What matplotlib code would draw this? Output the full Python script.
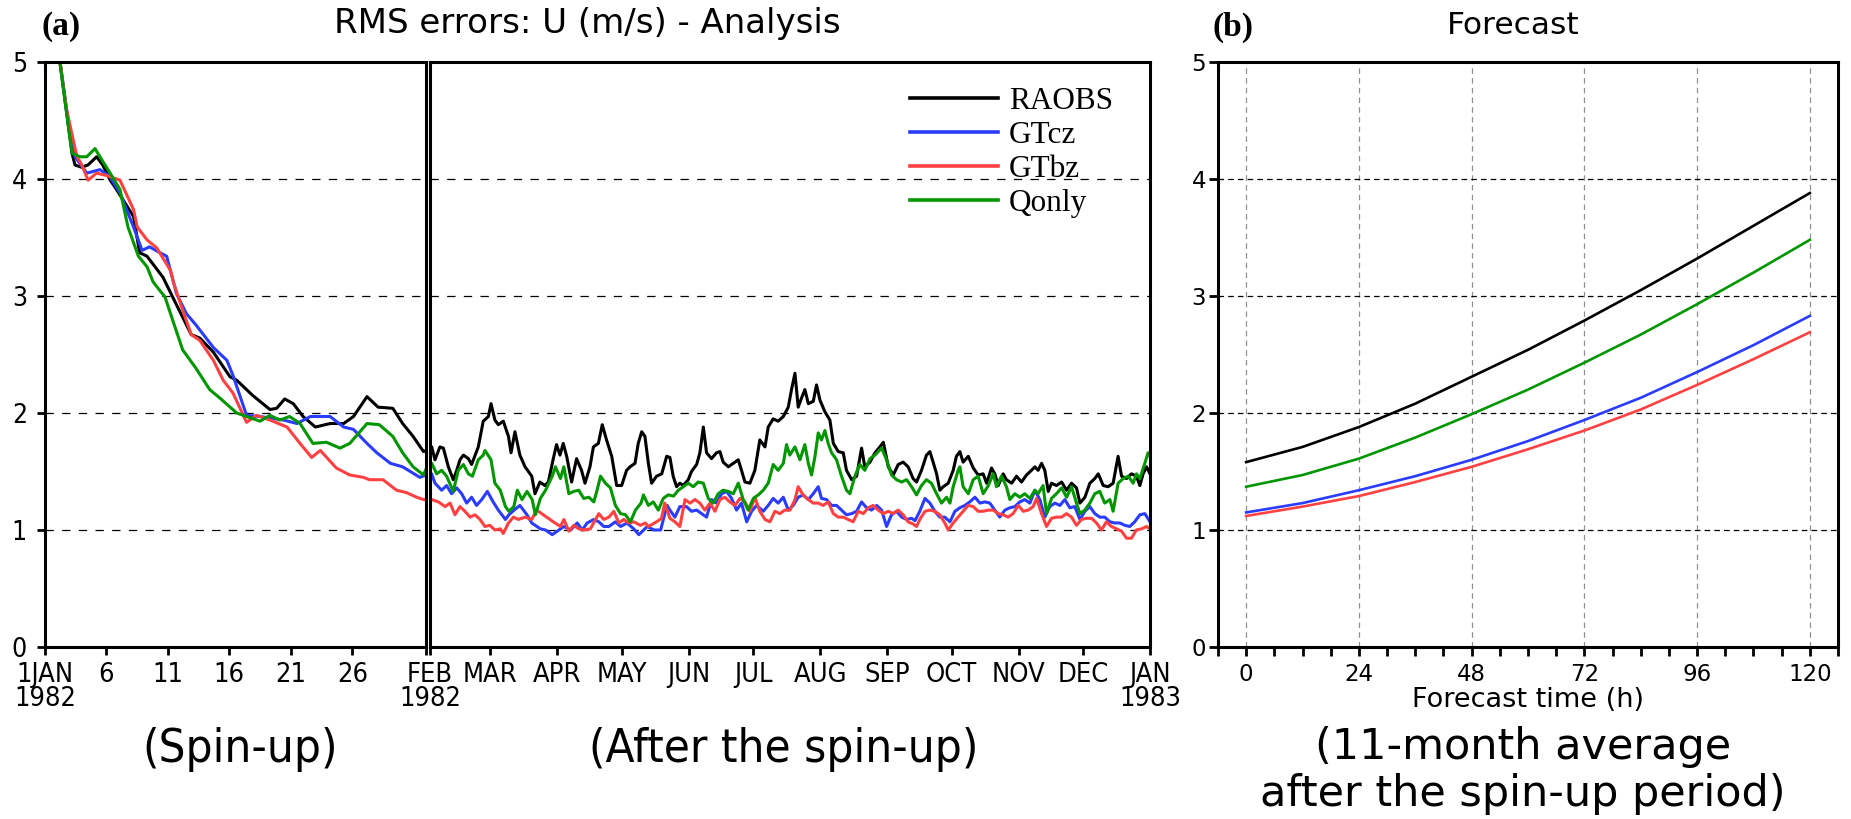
import numpy as np
import matplotlib
matplotlib.use('Agg')
import matplotlib.pyplot as plt
from matplotlib import font_manager as fm
from matplotlib.font_manager import FontProperties

# ---------------- data (days since 1 Jan 1982 00Z) ----------------
raobs_day = [1.0, 2.2, 2.44, 2.98, 3.5, 4.2, 4.7, 5.3, 5.7, 7.2, 7.7, 8.3, 9.6, 10.44, 11.9, 12.6, 13.7, 15.05, 15.6, 16.9,
             18.3, 18.85, 19.5, 20.2, 21.0, 22.0, 23.2, 24.3, 25.1, 26.2, 27.1, 28.3, 29.1, 29.95, 30.8, 31.0,
             31.8, 33.3, 35.6, 37.2, 39.5, 41.8, 43.4, 44.9, 46.5, 48.8, 50.3, 53.4, 55.7, 58.1, 59.3, 61.1, 62.7, 65.0,
             67.4, 68.6, 70.4, 72.7, 75.1, 78.2, 79.7, 82.0, 84.3, 85.9, 88.2, 89.7, 91.3, 92.8, 94.4, 96.7, 99.0, 101.3,
             102.9, 105.2, 106.8, 109.1, 110.9, 112.9, 115.3, 117.6, 119.9, 122.2, 123.8, 126.1, 127.6, 129.2, 130.7,
             132.3, 133.8, 136.1, 138.5, 140.8, 142.3, 143.8, 145.4, 146.9, 148.5, 150.8, 152.3, 154.7, 156.2, 157.8,
             159.3, 161.6, 163.9, 165.5, 167.0, 169.4, 171.7, 174.0, 175.5, 177.1, 179.4, 181.7, 184.0, 186.4, 187.9,
             190.2, 192.5, 194.9, 197.2, 198.7, 200.3, 201.8, 203.4, 204.9, 206.5, 208.8, 210.3, 211.9, 214.2, 216.5,
             218.1, 220.4, 222.7, 224.2, 226.6, 228.9, 231.2, 232.7, 235.1, 237.4, 239.7, 241.3, 243.6, 245.9, 248.2,
             250.5, 252.8, 255.1, 256.7, 259.0, 261.3, 262.9, 264.4, 266.0, 267.5, 269.1, 271.4, 273.7, 275.2, 276.8,
             278.3, 280.7, 283.0, 285.3, 287.6, 289.2, 291.5, 293.0, 294.6, 296.9, 298.4, 300.8, 303.1, 305.4, 307.7,
             310.0, 311.6, 313.1, 314.7, 316.2, 317.8, 319.3, 321.6, 324.0, 326.3, 328.6, 330.9, 332.5, 334.8, 337.1,
             339.4, 341.0, 343.3, 345.6, 347.9, 350.2, 351.8, 354.1, 356.4, 358.7, 360.3, 361.8, 363.4, 365.0]
raobs_val = [5.17, 4.22, 4.12, 4.10, 4.12, 4.19, 4.12, 3.99, 3.93, 3.68, 3.37, 3.34, 3.16, 2.98, 2.67, 2.64, 2.52, 2.31, 2.28, 2.15,
             2.03, 2.04, 2.12, 2.08, 1.97, 1.88, 1.91, 1.91, 1.97, 2.14, 2.05, 2.04, 1.91, 1.80, 1.67, 1.68,
             1.71, 1.60, 1.71, 1.70, 1.54, 1.43, 1.51, 1.60, 1.64, 1.61, 1.56, 1.71, 1.93, 1.97, 2.08, 1.94, 1.90, 1.93,
             1.80, 1.66, 1.84, 1.64, 1.54, 1.46, 1.31, 1.41, 1.38, 1.41, 1.61, 1.73, 1.64, 1.74, 1.63, 1.41, 1.61, 1.51,
             1.40, 1.54, 1.71, 1.74, 1.90, 1.77, 1.63, 1.38, 1.38, 1.51, 1.54, 1.57, 1.74, 1.84, 1.80,
             1.57, 1.40, 1.46, 1.48, 1.63, 1.62, 1.46, 1.37, 1.40, 1.38, 1.43, 1.50, 1.56, 1.66, 1.88,
             1.66, 1.61, 1.66, 1.67, 1.58, 1.54, 1.57, 1.60, 1.51, 1.41, 1.40, 1.51, 1.77, 1.71, 1.88,
             1.95, 1.93, 1.97, 2.05, 2.20, 2.34, 2.05, 2.13, 2.20, 2.08, 2.10, 2.24, 2.11, 2.01, 1.94,
             1.74, 1.67, 1.66, 1.51, 1.43, 1.46, 1.70, 1.54, 1.58, 1.66, 1.71, 1.75, 1.54, 1.47, 1.56,
             1.58, 1.54, 1.44, 1.41, 1.51, 1.64, 1.67, 1.58, 1.48, 1.34, 1.37, 1.40, 1.51, 1.63, 1.67,
             1.58, 1.63, 1.53, 1.47, 1.48, 1.40, 1.53, 1.48, 1.38, 1.48, 1.43, 1.40, 1.46, 1.41, 1.47,
             1.51, 1.54, 1.51, 1.57, 1.51, 1.33, 1.40, 1.38, 1.41, 1.34, 1.40, 1.36, 1.23, 1.28, 1.40,
             1.44, 1.48, 1.38, 1.37, 1.40, 1.63, 1.46, 1.44, 1.48, 1.46, 1.38, 1.48, 1.54, 1.48]

gtcz_day = [1.0, 1.76, 2.44, 3.4, 4.47, 5.3, 6.1, 7.2, 7.9, 8.5, 9.36, 9.9, 10.7, 11.5, 12.3, 13.7, 14.8, 15.3, 16.4, 17.5,
            19.4, 20.5, 21.6, 23.2, 24.3, 25.1, 26.2, 27.0, 28.1, 29.1, 30.5, 31.0,
            31.8, 33.3, 36.4, 38.7, 41.0, 43.4, 45.7, 48.0, 50.3, 52.6, 55.0, 57.6, 60.3, 62.7, 66.0, 67.6, 70.0, 72.7,
            76.0, 78.2, 82.2, 84.6, 87.7, 90.8, 93.1, 96.2, 99.3, 101.6, 103.9, 107.0, 109.3, 111.6, 114.0, 117.0,
            119.4, 122.4, 125.5, 127.9, 131.8, 134.9, 138.0, 139.5, 141.0, 142.3, 144.6, 146.9, 150.0, 152.3, 154.7,
            157.0, 159.3, 161.6, 163.9, 166.3, 168.6, 170.9, 173.2, 175.5, 177.9, 180.2, 182.5, 185.6, 187.9, 190.2,
            192.5, 194.9, 197.2, 199.5, 201.8, 204.1, 206.5, 208.8, 211.1, 212.6, 215.0, 217.3, 219.6, 221.9, 224.2,
            226.6, 228.9, 231.2, 233.5, 235.8, 238.2, 240.5, 242.8, 245.1, 247.4, 249.8, 252.1, 254.4, 256.0, 258.2,
            260.6, 262.9, 265.2, 267.5, 269.8, 272.2, 274.5, 276.8, 279.1, 281.4, 283.8, 286.1, 288.4, 290.7, 293.0,
            295.3, 297.7, 300.0, 302.3, 304.6, 306.9, 309.3, 311.6, 313.9, 316.2, 318.5, 320.9, 323.2, 325.5, 327.8,
            330.1, 332.5, 334.8, 337.1, 339.4, 341.7, 344.0, 346.4, 348.7, 351.0, 353.3, 355.6, 357.9, 360.3, 362.6,
            365.0]
gtcz_val = [5.17, 4.59, 4.19, 4.05, 4.08, 4.02, 3.88, 3.59, 3.39, 3.42, 3.37, 3.34, 3.02, 2.85, 2.75, 2.56, 2.45, 2.32, 1.98, 1.97,
            1.94, 1.91, 1.97, 1.97, 1.88, 1.86, 1.74, 1.66, 1.57, 1.54, 1.45, 1.47,
            1.48, 1.40, 1.34, 1.38, 1.31, 1.36, 1.31, 1.23, 1.28, 1.21, 1.26, 1.33, 1.24, 1.17, 1.09, 1.13, 1.17, 1.21,
            1.13, 1.06, 1.01, 1.00, 0.96, 1.00, 1.03, 1.00, 1.06, 1.00, 1.06, 1.09, 1.07, 1.03, 1.03, 1.07,
            1.03, 1.06, 1.01, 0.96, 1.03, 1.00, 1.00, 1.11, 1.21, 1.17, 1.11, 1.20, 1.20, 1.16, 1.17,
            1.14, 1.11, 1.26, 1.23, 1.31, 1.33, 1.27, 1.17, 1.23, 1.07, 1.16, 1.21, 1.16, 1.21, 1.27,
            1.23, 1.28, 1.17, 1.21, 1.28, 1.30, 1.26, 1.31, 1.37, 1.27, 1.26, 1.21, 1.21, 1.17, 1.13,
            1.14, 1.16, 1.24, 1.19, 1.17, 1.21, 1.17, 1.03, 1.13, 1.16, 1.11, 1.09, 1.10, 1.08, 1.16,
            1.27, 1.23, 1.16, 1.11, 1.11, 1.07, 1.16, 1.19, 1.21, 1.24, 1.28, 1.23, 1.24, 1.23, 1.17,
            1.11, 1.17, 1.19, 1.20, 1.24, 1.26, 1.23, 1.34, 1.26, 1.11, 1.20, 1.23, 1.21, 1.26, 1.19,
            1.20, 1.09, 1.16, 1.20, 1.14, 1.11, 1.11, 1.07, 1.06, 1.06, 1.04, 1.03, 1.07, 1.13, 1.14,
            1.07]

gtbz_day = [1.0, 1.76, 2.6, 3.0, 3.5, 4.2, 5.0, 6.1, 7.2, 7.5, 8.3, 9.1, 10.2, 10.5, 11.1, 11.9, 12.6, 13.7, 14.5, 15.3,
            16.4, 17.2, 18.3, 19.7, 20.75, 21.7, 22.4, 23.7, 24.8, 25.9, 26.4, 27.5, 28.6, 29.4, 30.25, 30.8, 31.0,
            31.8, 34.9, 38.0, 40.3, 42.6, 44.9, 47.2, 49.6, 51.9, 54.2, 56.5, 58.8, 61.1, 63.6, 65.0, 67.4, 69.7, 72.0,
            75.1, 78.2, 80.5, 82.8, 85.1, 88.2, 91.5, 93.1, 95.4, 97.7, 100.0, 102.3, 105.4, 107.8, 109.3, 111.6, 114.0,
            116.3, 118.6, 120.9, 123.2, 125.5, 128.6, 130.9, 132.3, 136.1, 138.4, 139.9, 142.3, 144.6, 146.9, 149.3,
            151.6, 153.9, 156.2, 158.5, 160.9, 163.2, 165.5, 167.8, 170.1, 172.5, 174.8, 177.1, 179.4, 181.7, 184.0,
            186.4, 188.7, 191.0, 193.3, 195.6, 198.0, 200.3, 201.8, 204.1, 206.5, 208.8, 211.1, 213.4, 215.7, 218.1,
            220.4, 222.7, 225.0, 227.3, 229.7, 232.0, 234.3, 236.6, 238.9, 241.3, 243.6, 245.9, 248.2, 250.5, 252.8,
            255.2, 256.7, 258.2, 260.6, 262.9, 265.2, 267.5, 269.8, 271.4, 273.7, 276.0, 278.3, 280.7, 283.0, 285.3,
            287.6, 290.0, 292.3, 294.6, 296.9, 299.2, 301.5, 303.9, 306.2, 308.5, 310.8, 312.4, 314.7, 317.0, 319.3,
            321.6, 324.0, 326.3, 328.6, 330.9, 333.2, 335.5, 337.9, 340.2, 342.5, 344.8, 347.1, 349.5, 351.8, 354.1,
            356.4, 358.7, 361.1, 363.4, 365.0]
gtbz_val = [5.17, 4.59, 4.19, 4.12, 3.99, 4.05, 4.03, 3.99, 3.74, 3.59, 3.48, 3.41, 3.22, 3.10, 2.91, 2.67, 2.62, 2.45, 2.28, 2.17,
            1.92, 1.98, 1.94, 1.88, 1.74, 1.62, 1.68, 1.53, 1.47, 1.45, 1.43, 1.43, 1.34, 1.32, 1.28, 1.26, 1.26,
            1.26, 1.24, 1.20, 1.23, 1.13, 1.20, 1.16, 1.11, 1.13, 1.09, 1.03, 1.04, 1.00, 1.01, 0.97, 1.06, 1.11, 1.09,
            1.11, 1.09, 1.17, 1.14, 1.11, 1.07, 1.03, 1.09, 0.99, 1.04, 1.01, 1.00, 1.01, 1.09, 1.14, 1.09, 1.11,
            1.16, 1.06, 1.09, 1.06, 1.07, 1.04, 1.06, 1.03, 1.07, 1.10, 1.23, 1.10, 1.07, 1.03, 1.26,
            1.23, 1.26, 1.23, 1.17, 1.23, 1.16, 1.26, 1.28, 1.24, 1.21, 1.27, 1.24, 1.16, 1.28, 1.16,
            1.09, 1.07, 1.16, 1.14, 1.17, 1.17, 1.26, 1.37, 1.30, 1.26, 1.23, 1.23, 1.21, 1.24, 1.14,
            1.11, 1.11, 1.09, 1.07, 1.16, 1.14, 1.19, 1.21, 1.17, 1.14, 1.16, 1.14, 1.17, 1.13, 1.07,
            1.05, 1.03, 1.09, 1.16, 1.17, 1.16, 1.13, 1.06, 1.00, 1.06, 1.11, 1.16, 1.21, 1.20, 1.16,
            1.16, 1.17, 1.17, 1.14, 1.13, 1.11, 1.14, 1.21, 1.16, 1.17, 1.20, 1.27, 1.14, 1.03, 1.10,
            1.11, 1.11, 1.14, 1.11, 1.04, 1.09, 1.10, 1.10, 1.06, 1.00, 1.07, 1.03, 1.01, 0.99, 0.93,
            0.93, 1.00, 1.01, 1.03, 1.01]

qonly_day = [1.0, 1.9, 2.2, 2.85, 3.4, 4.07, 4.47, 5.3, 6.1, 6.75, 7.6, 8.3, 8.8, 9.77, 10.4, 11.2, 12.3, 13.4, 14.2, 15.6,
             16.4, 17.5, 18.3, 19.1, 19.9, 20.75, 21.8, 22.9, 24.0, 24.8, 26.2, 27.2, 28.3, 29.1, 29.95, 30.8, 31.0,
             31.8, 34.1, 36.4, 38.7, 41.8, 44.1, 46.5, 48.8, 50.7, 53.4, 55.7, 56.5, 59.3, 61.1, 63.6, 66.0, 67.6, 69.9,
             71.5, 73.7, 76.0, 78.4, 79.9, 82.2, 84.6, 87.7, 89.2, 91.5, 93.1, 95.4, 97.7, 100.0, 102.3, 104.7, 107.0,
             108.5, 110.1, 112.4, 114.7, 117.0, 119.4, 121.7, 124.0, 126.3, 128.9, 130.0, 132.3, 134.6, 136.9, 139.2,
             141.5, 144.0, 146.2, 148.5, 150.8, 153.1, 155.4, 157.8, 160.1, 162.4, 164.7, 167.0, 169.4, 171.7, 174.0,
             176.3, 178.6, 181.0, 183.3, 185.6, 187.9, 190.2, 192.5, 194.9, 196.4, 197.9, 200.3, 202.6, 204.9, 206.5,
             208.0, 209.6, 211.1, 212.6, 214.2, 215.7, 217.3, 219.6, 221.9, 224.2, 225.8, 228.1, 230.4, 232.7, 235.1,
             237.4, 240.5, 242.8, 245.1, 247.4, 249.8, 252.1, 254.4, 256.7, 259.0, 261.3, 263.6, 266.0, 268.3, 270.6,
             272.2, 273.7, 276.0, 276.8, 278.3, 280.7, 283.0, 285.3, 287.6, 290.0, 292.3, 293.8, 296.1, 298.4, 300.0,
             302.3, 304.6, 306.9, 309.3, 311.6, 313.1, 315.4, 317.0, 319.3, 321.6, 324.0, 326.3, 328.6, 330.9, 332.5,
             334.8, 337.1, 339.4, 341.7, 344.0, 346.4, 347.9, 350.2, 352.6, 354.9, 357.2, 358.7, 360.3, 362.6, 364.1,
             365.0]
qonly_val = [5.17, 4.45, 4.22, 4.19, 4.19, 4.26, 4.19, 4.05, 3.91, 3.59, 3.34, 3.25, 3.12, 2.99, 2.79, 2.54, 2.38, 2.20, 2.13, 2.00,
             1.97, 1.93, 1.98, 1.94, 1.97, 1.91, 1.74, 1.75, 1.70, 1.74, 1.91, 1.90, 1.80, 1.66, 1.54, 1.47, 1.52,
             1.57, 1.48, 1.51, 1.46, 1.33, 1.51, 1.56, 1.48, 1.46, 1.60, 1.64, 1.68, 1.60, 1.40, 1.34, 1.20, 1.16, 1.20,
             1.34, 1.26, 1.33, 1.26, 1.13, 1.27, 1.34, 1.46, 1.54, 1.44, 1.54, 1.31, 1.33, 1.34, 1.27, 1.28, 1.24,
             1.34, 1.46, 1.40, 1.36, 1.21, 1.14, 1.13, 1.07, 1.17, 1.23, 1.30, 1.21, 1.24, 1.17, 1.27,
             1.30, 1.29, 1.34, 1.37, 1.40, 1.37, 1.41, 1.40, 1.27, 1.23, 1.31, 1.34, 1.33, 1.31, 1.40,
             1.26, 1.17, 1.27, 1.30, 1.34, 1.40, 1.56, 1.51, 1.57, 1.73, 1.64, 1.71, 1.60, 1.73, 1.57,
             1.47, 1.63, 1.83, 1.77, 1.85, 1.74, 1.66, 1.60, 1.46, 1.34, 1.31, 1.46, 1.56, 1.51, 1.61,
             1.64, 1.70, 1.60, 1.47, 1.43, 1.41, 1.43, 1.37, 1.30, 1.38, 1.43, 1.40, 1.31, 1.23, 1.28,
             1.23, 1.37, 1.51, 1.54, 1.37, 1.31, 1.43, 1.46, 1.31, 1.38, 1.48, 1.37, 1.46, 1.37, 1.26,
             1.31, 1.28, 1.31, 1.27, 1.34, 1.31, 1.38, 1.14, 1.27, 1.31, 1.36, 1.28, 1.37, 1.23, 1.14,
             1.17, 1.23, 1.31, 1.33, 1.23, 1.26, 1.16, 1.40, 1.44, 1.46, 1.40, 1.48, 1.44, 1.57, 1.66,
             1.63]

# forecast (11-month average)
fc_hours = [0, 12, 24, 36, 48, 60, 72, 84, 96, 108, 120]
fc_raobs = [1.58, 1.71, 1.88, 2.08, 2.31, 2.54, 2.79, 3.05, 3.32, 3.60, 3.88]
fc_gtcz = [1.15, 1.23, 1.34, 1.46, 1.60, 1.76, 1.94, 2.13, 2.35, 2.58, 2.83]
fc_gtbz = [1.12, 1.20, 1.29, 1.41, 1.54, 1.69, 1.85, 2.03, 2.24, 2.46, 2.69]
fc_qonly = [1.37, 1.47, 1.61, 1.79, 1.99, 2.20, 2.43, 2.67, 2.93, 3.20, 3.48]

names = ['RAOBS', 'GTcz', 'GTbz', 'Qonly']
colors = ['#000000', '#2a3cff', '#ff4141', '#009600']

spin_ticks = [0, 5, 10, 15, 20, 25, 31]
spin_labels = ['1JAN\n1982', '6', '11', '16', '21', '26', '']
month_ticks = [31, 59, 90, 120, 151, 181, 212, 243, 273, 304, 334, 365]
month_labels = ['FEB\n1982', 'MAR', 'APR', 'MAY', 'JUN', 'JUL', 'AUG', 'SEP', 'OCT', 'NOV', 'DEC', 'JAN\n1983']
fc_ticks = [0, 24, 48, 72, 96, 120]

# ---------------- fonts ----------------
ttf = fm.fontManager.ttflist
fnames = {f.name for f in ttf}
if 'DejaVu Sans Condensed' in fnames:
    COND = dict(family='DejaVu Sans Condensed')
elif any(f.name == 'DejaVu Sans' and str(f.stretch) in ('condensed', 'semi-condensed', '500', '600') for f in ttf):
    COND = dict(family='DejaVu Sans', stretch='condensed')
elif 'Liberation Sans Narrow' in fnames:
    COND = dict(family='Liberation Sans Narrow')
else:
    COND = dict(family='DejaVu Sans')

def cfp(size):
    return FontProperties(size=size, **COND)

plt.rcParams['font.family'] = ['DejaVu Sans']
plt.rcParams['lines.scale_dashes'] = False

W, H = 1851, 819
fig = plt.figure(figsize=(W / 100, H / 100), dpi=100)

def fx(px):
    return px / W

def fy(py):
    return 1 - py / H

bottom = fy(647)
height = 585 / H
axL = fig.add_axes([fx(45), bottom, 381 / W, height])
axM = fig.add_axes([fx(430), bottom, 720 / W, height])
axR = fig.add_axes([fx(1218), bottom, 620 / W, height])

series = [(raobs_day, raobs_val), (gtcz_day, gtcz_val), (gtbz_day, gtbz_val), (qonly_day, qonly_val)]
for ax in (axL, axM):
    for (d, v), nm, c in zip(series, names, colors):
        ax.plot(d, v, color=c, lw=2.2, label=nm, solid_joinstyle='round')
    ax.set_ylim(0, 5)
    ax.set_yticks([0, 1, 2, 3, 4, 5])
    ax.set_axisbelow(True)
    ax.yaxis.grid(True, color='black', lw=0.9, ls=(0, (6, 6)))
    for s in ax.spines.values():
        s.set_linewidth(2.2)
    ax.tick_params(axis='x', direction='out', length=5.5, width=2.0, pad=5)

axL.set_xlim(0, 31)
axL.set_xticks(spin_ticks)
axL.set_xticklabels(spin_labels, fontproperties=cfp(19.5))
axL.set_yticklabels([str(i) for i in range(6)], fontproperties=cfp(19))
axL.tick_params(axis='y', direction='out', length=6, width=2.0, pad=7)

axM.set_xlim(31, 365)
axM.set_xticks(month_ticks)
axM.set_xticklabels(month_labels, fontproperties=cfp(19.5))
axM.tick_params(axis='y', length=0, labelleft=False)

for ax in (axL, axM):
    for lab in ax.get_xticklabels():
        lab.set_linespacing(0.92)

leg = axM.legend(loc='upper left', bbox_to_anchor=(0.667, 0.958), frameon=False,
                 prop=FontProperties(family='Liberation Serif', size=22.5),
                 handlelength=2.8, handletextpad=0.36, labelspacing=0.16,
                 borderpad=0, borderaxespad=0)
for ln in leg.get_lines():
    ln.set_linewidth(2.6)

# forecast panel
for vals, c in zip([fc_raobs, fc_gtcz, fc_gtbz, fc_qonly], colors):
    axR.plot(fc_hours, vals, color=c, lw=1.9)
axR.set_xlim(-6, 126)
axR.set_ylim(0, 5)
axR.set_xticks(fc_ticks)
axR.set_xticks(np.arange(-6, 127, 6), minor=True)
axR.set_yticks([0, 1, 2, 3, 4, 5])
axR.set_axisbelow(True)
axR.yaxis.grid(True, color='black', lw=0.9, ls=(0, (4, 3)))
axR.xaxis.grid(True, which='major', color='#909090', lw=0.9, ls=(0, (4, 3)))
for s in axR.spines.values():
    s.set_linewidth(2.2)
axR.tick_params(axis='both', which='both', direction='out', length=6.5, width=2.0, labelsize=16.5)
axR.tick_params(axis='x', pad=5)
axR.tick_params(axis='y', pad=2)
axR.set_xlabel('Forecast time (h)', fontsize=19.5, labelpad=1)

# texts
fig.text(fx(41), fy(27), '(a)', family='Liberation Serif', weight='bold', fontsize=24, ha='left', va='center')
fig.text(fx(1212), fy(27), '(b)', family='Liberation Serif', weight='bold', fontsize=24, ha='left', va='center')
fig.text(fx(587), fy(24), 'RMS errors: U (m/s) - Analysis', fontsize=24.5, ha='center', va='center')
fig.text(fx(1513), fy(26), 'Forecast', fontsize=22.5, ha='center', va='center')
fig.text(fx(240), fy(749), '(Spin-up)', fontproperties=cfp(34), ha='center', va='center')
fig.text(fx(784), fy(749), '(After the spin-up)', fontproperties=cfp(34), ha='center', va='center')
fig.text(fx(1523), fy(747), '(11-month average', fontsize=31, ha='center', va='center')
fig.text(fx(1523), fy(794), 'after the spin-up period)', fontsize=31, ha='center', va='center')

fig.savefig('out.png', dpi=100)
